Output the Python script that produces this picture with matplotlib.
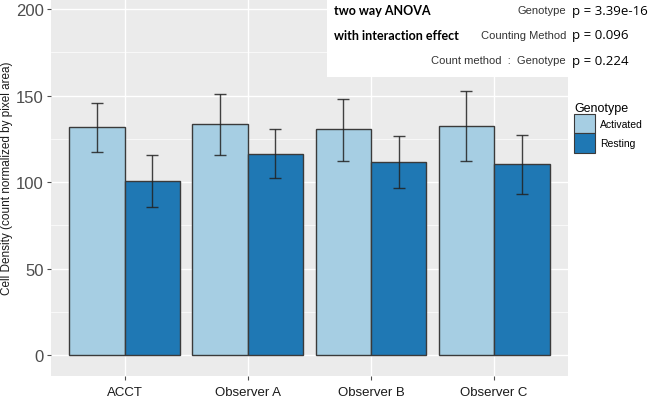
import numpy as np
import matplotlib.pyplot as plt
from matplotlib.patches import Rectangle, Patch
from matplotlib.ticker import MultipleLocator

methods = ["ACCT", "Observer A", "Observer B", "Observer C"]
genotypes = ["Activated", "Resting"]
activated_mean = [131.8, 133.5, 130.5, 132.2]
activated_lo = [117.5, 115.4, 112.3, 112.0]
activated_hi = [145.5, 151.0, 148.2, 152.8]
resting_mean = [100.6, 116.2, 111.4, 110.4]
resting_lo = [85.4, 102.1, 96.3, 93.0]
resting_hi = [115.8, 130.5, 126.4, 127.3]
colors = ["#A6CEE3", "#1F78B4"]

anova_terms = ["Genotype", "Counting Method", "Count method  :  Genotype"]
anova_p = ["p = 3.39e-16", "p = 0.096", "p = 0.224"]

plt.rcParams['font.family'] = ['Liberation Sans', 'DejaVu Sans']

fig = plt.figure(figsize=(6.49, 4.02), dpi=100)
ax = fig.add_axes([50.7 / 649, 25 / 402, (568 - 50.7) / 649, 377 / 402])
ax.set_facecolor("#EBEBEB")

x = np.arange(1, len(methods) + 1)
w = 0.45
series = [(activated_mean, activated_lo, activated_hi), (resting_mean, resting_lo, resting_hi)]
for i, (m, lo, hi) in enumerate(series):
    xs = x + (i - 0.5) * w
    m = np.array(m)
    ax.bar(xs, m, width=w, color=colors[i], edgecolor="#3a3a3a", linewidth=1.0, zorder=2)
    yerr = [m - np.array(lo), np.array(hi) - m]
    ax.errorbar(xs, m, yerr=yerr, fmt="none", ecolor="#222222", elinewidth=1.0,
                capsize=4.3, capthick=1.0, alpha=0.85, zorder=3)

ax.set_xlim(0.4, 4.6)
ax.set_ylim(-12.1, 205.8)
ax.set_xticks(x)
ax.set_xticklabels(methods, fontsize=9.5, color="#1a1a1a")
ax.yaxis.set_major_locator(MultipleLocator(50))
ax.yaxis.set_minor_locator(MultipleLocator(25))
ax.tick_params(axis="y", labelsize=12, colors="#4D4D4D", length=3, width=0.8, pad=2)
ax.tick_params(axis="y", which="minor", length=0)
ax.tick_params(axis="x", colors="#4D4D4D", length=3, width=0.8, pad=4.5)
for lab in ax.get_xticklabels():
    lab.set_color("#1a1a1a")
ax.grid(which="major", color="white", linewidth=1.0, zorder=0)
ax.grid(which="minor", axis="y", color="white", linewidth=0.5, zorder=0)
ax.set_axisbelow(True)
for s in ax.spines.values():
    s.set_visible(False)
ax.set_ylabel("Cell Density (count normalized by pixel area)", fontsize=8.5, color="#1a1a1a")
ax.yaxis.set_label_coords((13 - 50.7) / 517.3, (377 - 178) / 377)

# legend
handles = [Patch(facecolor=colors[i], edgecolor="#3a3a3a", linewidth=0.8, label=g)
           for i, g in enumerate(genotypes)]
leg = fig.legend(handles=handles, title="Genotype", loc="upper left",
                 bbox_to_anchor=(574 / 649, 1 - 103 / 402), frameon=False,
                 fontsize=7.5, title_fontsize=9, handlelength=2.0, handleheight=2.5,
                 handletextpad=0.5, labelspacing=0.0, borderaxespad=0, borderpad=0)
leg._legend_box.align = "left"

# ANOVA annotation box
fig.add_artist(Rectangle((327 / 649, 1 - 78 / 402), 1 - 327 / 649, 78 / 402,
                         transform=fig.transFigure, facecolor="white", edgecolor="none", zorder=5))
fig.text(334 / 649, 1 - 11 / 402, "two way ANOVA", fontsize=9, fontweight="bold",
         family=["Lato", "DejaVu Sans"], va="center", ha="left", zorder=6)
fig.text(334 / 649, 1 - 36 / 402, "with interaction effect", fontsize=9, fontweight="bold",
         family=["Lato", "DejaVu Sans"], va="center", ha="left", zorder=6)
rows_y = [11, 36, 61]
for term, p, yy in zip(anova_terms, anova_p, rows_y):
    fig.text(566 / 649, 1 - yy / 402, term, fontsize=8, color="#333333",
             va="center", ha="right", zorder=6)
    fig.text(572 / 649, 1 - yy / 402, p, fontsize=9.5, family=["Open Sans", "DejaVu Sans"],
             va="center", ha="left", zorder=6)

fig.savefig("out.png", dpi=100)
